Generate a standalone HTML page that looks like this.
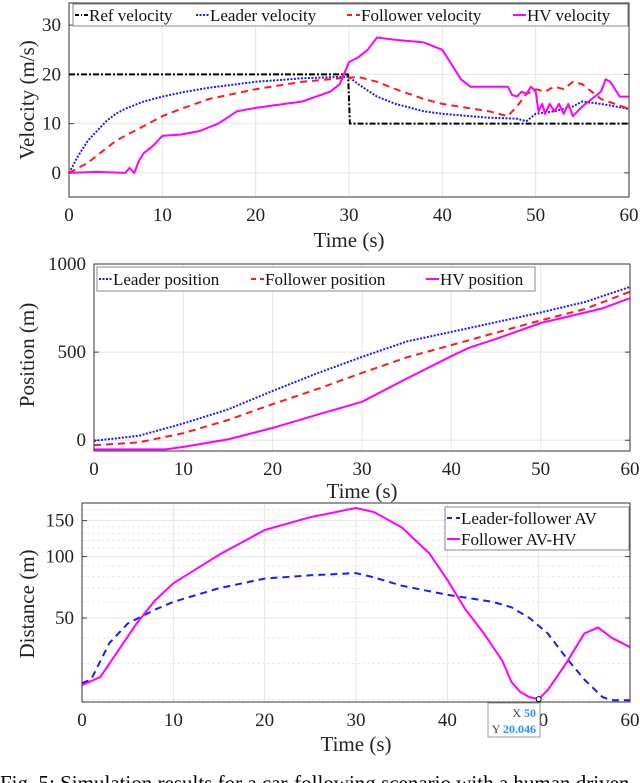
<!DOCTYPE html>
<html><head><meta charset="utf-8"><style>
html,body{margin:0;padding:0;background:#fff;width:640px;height:783px;overflow:hidden}
svg{display:block;font-family:"Liberation Serif",serif}
</style></head><body>
<svg id="fig" width="640" height="783" viewBox="0 0 640 783">
<text x="0" y="790" font-size="21" fill="#000">Fig. 5: Simulation results for a car-following scenario with a human driven</text>
</svg>
<script>
// ---------- Data: Velocity ----------
const velRefT=[0,29.9,30.1,60];
const velRefV=[20,20,10,10];
const velLeaderT=[0,1,2,3,4,5,6,8,10,12,15,20,25,29,30,31,33,35,38,40,45,48,49,50,52,54,55,57,60];
const velLeaderV=[0,3.5,6.5,8.5,10.5,12,13,14.5,15.5,16.3,17.3,18.5,19.2,19.5,19.5,18,15.5,14,12.5,12,11.2,11,10.5,12,12.5,13.5,14.5,14,13];
const velFollowerT=[0,1,2,3,4,5,6,8,10,12,15,20,25,29,30,31,33,35,38,40,45,47,48,49,50,51,52,53,54,55,57,60];
const velFollowerV=[0,1,2,3.5,5,6.5,7.5,9.5,11.5,13,15,17,18.5,19.2,19.3,19.5,18.5,17,15,14,12.5,11.5,13.5,16,17,16.5,17.5,17,18.5,18,15,13];
const velHVT=[0,3,6,6.5,7,7.5,8,9,10,12,14,16,18,20,25,28,29,30,31,32,33,35,38,40,41,42,43,47,47.5,48,48.5,49,49.5,50,50.3,50.7,51,51.5,52,52.5,53,53.5,54,55,56,57,57.5,58,59,60];
const velHVV=[0,0.2,0,1,0,2.5,4,5.5,7.5,7.8,8.5,10,12.5,13.2,14.5,16.5,18,22.5,23.5,25,27.5,27,26.5,25,22,19,17.5,17.5,15.8,15.5,16.5,16,17.5,16.5,12.5,14,12,14,12.5,14,12,14,11.5,13.5,15,16.5,19,18.5,15.5,15.5];
const velXTicks=[0,10,20,30,40,50,60];
const velYTicks=[0,10,20,30];
// ---------- Data: Position ----------
const posT=[0,5,10,15,20,25,30,35,40,45,50,55,60];
const posLeader=[-3,25,95,175,280,380,473,560,615,670,725,785,870];
const posFollower=[-28,-12,40,115,205,290,382,470,540,610,680,745,843];
const posHVT=[0,8,10,15,20,25,30,35,40,42,45,50,55,57,60];
const posHV=[-52,-52,-38,5,70,145,218,350,477,525,575,665,725,750,806];
const posYTicks=[0,500,1000];
// ---------- Data: Distance ----------
const distLFT=[0,1,3,5,8,10,15,20,25,30,32,35,40,45,47,49,51,53,55,57,58,60];
const distLF=[24,25,37.7,47,55,60,70,78,81,83,79,72,65,60,56.5,50,42,32,25,20.5,19.8,19.8];
const distAHT=[0,2,4,6,8,10,15,20,25,30,32,35,38,40,42,44,46,47,48,49,50,51,53,55,56.5,58,60];
const distAH=[23.5,25.7,34.8,47.2,61,74,102,135,156,173,165,139,104,77,55,42,31,24.4,21.7,20.5,20.05,22.2,30,42,45,40,36];
const distYTicks=[50,100,150];
const distMinor=[20,30,40,60,70,80,90,110,120,130,140,160,170];

const NS="http://www.w3.org/2000/svg";
const svg=document.getElementById('fig');
function mk(tag,attrs,parent){const e=document.createElementNS(NS,tag);for(const k in attrs)e.setAttribute(k,attrs[k]);(parent||svg).appendChild(e);return e;}
function axes(o){
  const g=mk('g',{});
  
  
  const sx=t=>o.x0+(t-o.xd[0])/(o.xd[1]-o.xd[0])*(o.x1-o.x0);
  const sy=o.log?(v=>o.y1-(Math.log10(v)-Math.log10(o.yd[0]))/(Math.log10(o.yd[1])-Math.log10(o.yd[0]))*(o.y1-o.y0))
               :(v=>o.y1-(v-o.yd[0])/(o.yd[1]-o.yd[0])*(o.y1-o.y0));
  mk('rect',{x:o.x0,y:o.y0,width:o.x1-o.x0,height:o.y1-o.y0,fill:'#fff'},g);
  (o.minor||[]).forEach(v=>{const l=mk('line',{x1:o.x0,x2:o.x1,y1:sy(v),y2:sy(v),stroke:'#e4e4e4','stroke-width':0.8,'stroke-dasharray':'3,2'},g);});
  o.xt.forEach(t=>{const x=sx(t);const l=mk('line',{x1:x,x2:x,y1:o.y0,y2:o.y1,stroke:'#e6e6e6','stroke-width':1},g);
    const tx=mk('text',{x:x,y:o.y1+24,'font-size':19,'text-anchor':'middle',fill:'#222'},g);tx.textContent=t;});
  o.yt.forEach(v=>{const y=sy(v);const l=mk('line',{x1:o.x0,x2:o.x1,y1:y,y2:y,stroke:'#e6e6e6','stroke-width':1},g);
    mk('line',{x1:o.x0,x2:o.x0+5,y1:y,y2:y,stroke:'#444'},g);mk('line',{x1:o.x1,x2:o.x1-5,y1:y,y2:y,stroke:'#444'},g);
    const tx=mk('text',{x:o.x0-8,y:y+6,'font-size':19,'text-anchor':'end',fill:'#222'},g);tx.textContent=v;});
  o.series.forEach(s=>{
    const d=s.t.map((t,i)=>(i?'L':'M')+sx(t).toFixed(1)+' '+sy(s.v[i]).toFixed(1)).join(' ');
    const p=mk('path',{d:d,fill:'none',stroke:s.c,'stroke-width':s.w||2,'stroke-dasharray':s.dash||'none','stroke-linejoin':'round'},g);
    
    
  });
  mk('rect',{x:o.x0,y:o.y0,width:o.x1-o.x0,height:o.y1-o.y0,fill:'none',stroke:'#333','stroke-width':1},g);
  const xl=mk('text',{x:(o.x0+o.x1)/2,y:o.xlY,'font-size':21,'text-anchor':'middle',fill:'#222'},g);xl.textContent='Time (s)';
  
  const yl=mk('text',{x:0,y:0,'font-size':21,'text-anchor':'middle',fill:'#222',transform:`translate(${o.ylX},${o.ylCy}) rotate(-90)`},g);yl.textContent=o.ylabel;
  
  const L=o.legend;
  const lg=mk('g',{},g);
  
  
  mk('rect',{x:L.x,y:L.y,width:L.w,height:L.h,fill:'#fff',stroke:'#888','stroke-width':1},lg);
  L.items.forEach(it=>{
    mk('line',{x1:it.lx,x2:it.lx+13,y1:it.y,y2:it.y,stroke:it.c,'stroke-width':2,'stroke-dasharray':it.dash||'none'},lg);
    const t=mk('text',{x:it.lx+14,y:it.y+6,'font-size':17,fill:'#111'},lg);t.textContent=it.label;
    
  });
  return {sx,sy,g};
}
axes({name:'velocity-chart',x0:69,x1:629,y0:3,y1:197,xd:[0,60],yd:[-4.9,34.5],xt:velXTicks,yt:velYTicks,
  xlY:247,ylX:34,ylCy:100,ylabel:'Velocity (m/s)',
  series:[
    {name:'ref-velocity-line',t:velRefT,v:velRefV,c:'#000',dash:'6,2,2,2'},
    {name:'leader-velocity-line',t:velLeaderT,v:velLeaderV,c:'#1a1aff',dash:'2,1.5'},
    {name:'follower-velocity-line',t:velFollowerT,v:velFollowerV,c:'#ff1a1a',dash:'7,5'},
    {name:'hv-velocity-line',t:velHVT,v:velHVV,c:'#ff00ff'}],
  legend:{x:73,y:4,w:555,h:22,items:[
    {lx:75,y:15,c:'#000',dash:'4,2,1,2',label:'Ref velocity'},
    {lx:196,y:15,c:'#1a1aff',dash:'2,1.5',label:'Leader velocity'},
    {lx:347,y:15,c:'#ff1a1a',dash:'5,4',label:'Follower velocity'},
    {lx:513,y:15,c:'#ff00ff',label:'HV velocity'}]}});
axes({name:'position-chart',x0:94,x1:630,y0:264,y1:451,xd:[0,60],yd:[-61,1000],xt:velXTicks,yt:posYTicks,
  xlY:498,ylX:34,ylCy:355,ylabel:'Position (m)',
  series:[
    {name:'leader-position-line',t:posT,v:posLeader,c:'#1a1aff',dash:'2,1.5'},
    {name:'follower-position-line',t:posT,v:posFollower,c:'#ff1a1a',dash:'7,5'},
    {name:'hv-position-line',t:posHVT,v:posHV,c:'#ff00ff'}],
  legend:{x:97,y:267,w:438,h:24,items:[
    {lx:99,y:279,c:'#1a1aff',dash:'2,1.5',label:'Leader position'},
    {lx:251,y:279,c:'#ff1a1a',dash:'5,4',label:'Follower position'},
    {lx:426,y:279,c:'#ff00ff',label:'HV position'}]}});
const d3=axes({name:'distance-chart',x0:82,x1:630,y0:503,y1:702,xd:[0,60],yd:[19.4,183],log:true,minor:distMinor,xt:velXTicks,yt:distYTicks,
  xlY:751,ylX:34,ylCy:604,ylabel:'Distance (m)',
  series:[
    {name:'leader-follower-distance-line',t:distLFT,v:distLF,c:'#1a1aff',dash:'7,5'},
    {name:'follower-hv-distance-line',t:distAHT,v:distAH,c:'#ff00ff'}],
  legend:{x:445,y:507,w:184,h:43,items:[
    {lx:447,y:518,c:'#1a1aff',dash:'5,4',label:'Leader-follower AV'},
    {lx:447,y:539,c:'#ff00ff',label:'Follower AV-HV'}]}});
const tip=mk('g',{});


mk('rect',{x:488,y:703,width:52,height:34,fill:'#fff',stroke:'#999','stroke-width':1},tip);
const t1=mk('text',{x:536,y:717,'font-size':12,'text-anchor':'end',fill:'#444'},tip);
t1.innerHTML='X <tspan fill="#1e90ff" font-weight="bold">50</tspan>';
const t2=mk('text',{x:536,y:733,'font-size':12,'text-anchor':'end',fill:'#444'},tip);
t2.innerHTML='Y <tspan fill="#1e90ff" font-weight="bold">20.046</tspan>';
mk('circle',{cx:d3.sx(50),cy:d3.sy(20.05),r:2.5,fill:'#fff',stroke:'#000'},tip);
</script>
</body></html>
